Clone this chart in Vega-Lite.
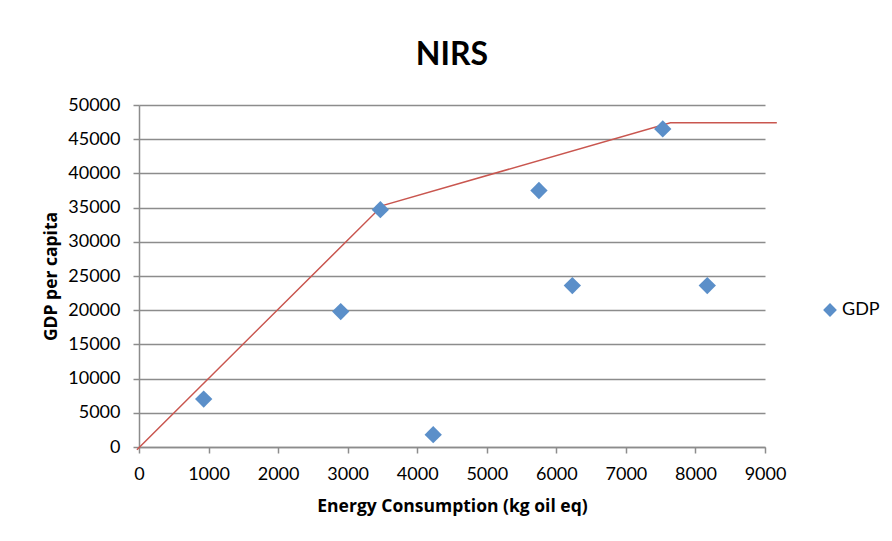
{
  "$schema": "https://vega.github.io/schema/vega-lite/v6.json",
  "width": 626,
  "height": 342,
  "autosize": {"type": "none"},
  "padding": {"left": 139, "top": 105, "right": 127, "bottom": 94},
  "background": "white",
  "title": {"text": "NIRS", "fontSize": 32, "font": "Lato", "fontWeight": "bold", "color": "#000000", "offset": 24, "anchor": "middle"},
  "datasets": {
    "pts": [
      {"energy": 930, "gdp": 7000, "series": "GDP"},
      {"energy": 2900, "gdp": 19800, "series": "GDP"},
      {"energy": 3470, "gdp": 34700, "series": "GDP"},
      {"energy": 4230, "gdp": 1800, "series": "GDP"},
      {"energy": 5750, "gdp": 37500, "series": "GDP"},
      {"energy": 6230, "gdp": 23600, "series": "GDP"},
      {"energy": 7530, "gdp": 46500, "series": "GDP"},
      {"energy": 8170, "gdp": 23600, "series": "GDP"}
    ],
    "frontier": [
      {"energy": -30, "gdp": -400},
      {"energy": 3500, "gdp": 35300},
      {"energy": 7640, "gdp": 47400},
      {"energy": 9170, "gdp": 47400}
    ]
  },
  "encoding": {
    "x": {"field": "energy", "type": "quantitative", "scale": {"domain": [0, 9000], "nice": false, "zero": false},
      "axis": {"title": "Energy Consumption (kg oil eq)", "values": [0,1000,2000,3000,4000,5000,6000,7000,8000,9000], "format": "d", "grid": false}},
    "y": {"field": "gdp", "type": "quantitative", "scale": {"domain": [0, 50000], "nice": false, "zero": false},
      "axis": {"title": "GDP per capita", "values": [0,5000,10000,15000,20000,25000,30000,35000,40000,45000,50000], "format": "d", "grid": true}}
  },
  "layer": [
    {
      "data": {"name": "frontier"},
      "mark": {"type": "line", "color": "#C9564F", "strokeWidth": 1.5, "clip": false}
    },
    {
      "data": {"name": "pts"},
      "mark": {"type": "point", "shape": "diamond", "filled": true, "size": 300, "opacity": 1},
      "encoding": {
        "color": {"field": "series", "type": "nominal", "scale": {"range": ["#5B8FC9"]},
          "legend": {"title": null, "orient": "none", "legendX": 682, "legendY": 196, "symbolType": "diamond", "symbolSize": 190, "labelOffset": 3, "labelFontSize": 18, "labelFont": "Lato", "labelColor": "#000000", "symbolOpacity": 1}}
      }
    }
  ],
  "config": {
    "view": {"stroke": null},
    "axis": {
      "domainColor": "#8c8c8c",
      "domainWidth": 1.5,
      "tickColor": "#8c8c8c",
      "tickWidth": 1.5,
      "tickSize": 6,
      "gridColor": "#8c8c8c",
      "gridWidth": 1.3,
      "labelFont": "Lato",
      "labelFontSize": 18,
      "labelColor": "#000000",
      "labelOverlap": false,
      "labelFlush": false,
      "labelBound": false,
      "titleFont": "Open Sans",
      "titleFontSize": 17.5,
      "titleFontWeight": "bold",
      "titleColor": "#000000"
    },
    "axisX": {"labelPadding": 12, "titlePadding": 14},
    "axisY": {"labelPadding": 13, "titlePadding": 7}
  }
}
